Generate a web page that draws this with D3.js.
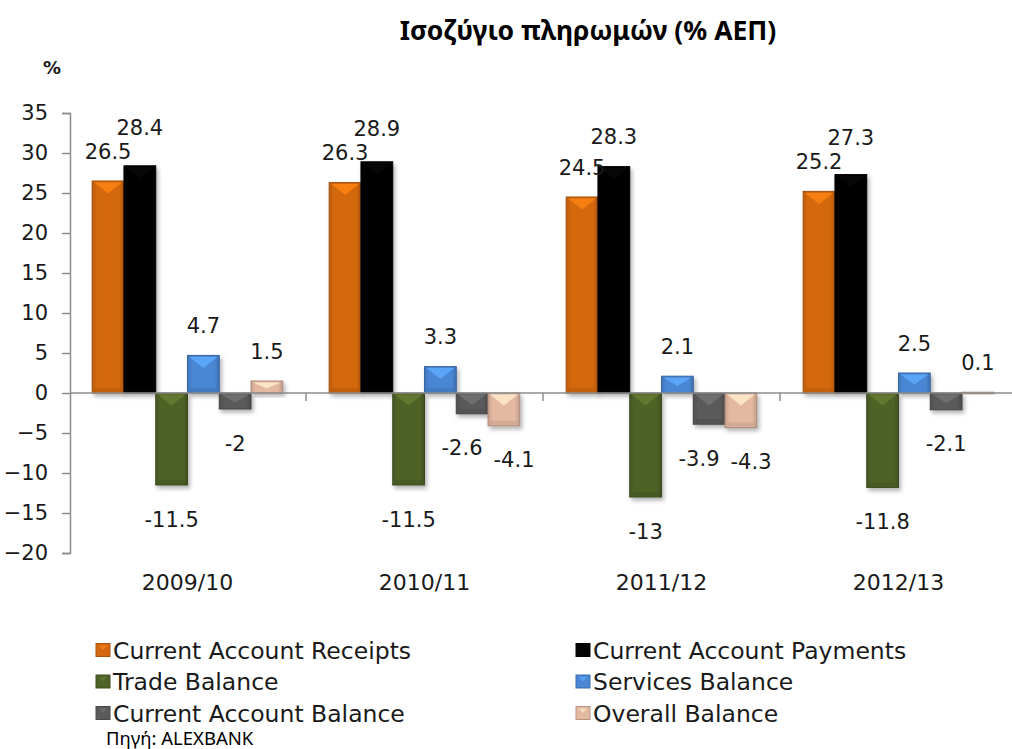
<!DOCTYPE html>
<html>
  <head>
    <meta charset="utf-8">
    <script src="https://cdn.jsdelivr.net/npm/d3@7"></script>
    <style type="text/css">
      body {
        margin: 0;
        padding: 0;
        background: #fff;
      }
      svg text {
        font-family: 'DejaVu Sans', sans-serif;
        fill: #1a1a1a;
      }
      #title {
        font-family: 'Noto Sans', sans-serif;
        font-weight: 700;
        font-size: 26.5px;
        fill: #000;
      }
      #source {
        font-family: 'Noto Sans', sans-serif;
        font-size: 18.5px;
        fill: #000;
      }
    </style>
  </head>
  <body>
    <svg id="chart" width="1012" height="749"></svg>

    <script>
      const categories = ['2009/10', '2010/11', '2011/12', '2012/13']
      const seriesNames = [
        'Current Account Receipts',
        'Current Account Payments',
        'Trade Balance',
        'Services Balance',
        'Current Account Balance',
        'Overall Balance'
      ]
      const receipts = [26.5, 26.3, 24.5, 25.2]
      const payments = [28.4, 28.9, 28.3, 27.3]
      const trade = [-11.5, -11.5, -13, -11.8]
      const services = [4.7, 3.3, 2.1, 2.5]
      const currentBalance = [-2, -2.6, -3.9, -2.1]
      const overall = [1.5, -4.1, -4.3, 0.1]
      const yTicks = [35, 30, 25, 20, 15, 10, 5, 0, -5, -10, -15, -20]

      const seriesValues = [receipts, payments, trade, services, currentBalance, overall]
      const colors = ['#d4680f', '#050505', '#4f6228', '#4a87d4', '#5a5a5a', '#e4b9a2']

      const svg = d3.select('#chart')
      const defs = svg.append('defs')

      defs.append('filter')
        .attr('id', 'shadow')
        .attr('x', '-20%').attr('y', '-20%')
        .attr('width', '160%').attr('height', '160%')
        .append('feDropShadow')
        .attr('dx', 2).attr('dy', 3)
        .attr('stdDeviation', 2)
        .attr('flood-color', '#000')
        .attr('flood-opacity', 0.3)

      // soft horizontal shading on every bar
      colors.forEach((c, i) => {
        const g = defs.append('linearGradient')
          .attr('id', 'grad' + i)
          .attr('x1', 0).attr('x2', 1).attr('y1', 0).attr('y2', 0)
        g.append('stop').attr('offset', '0%').attr('stop-color', d3.color(c).darker(0.35))
        g.append('stop').attr('offset', '15%').attr('stop-color', c)
        g.append('stop').attr('offset', '85%').attr('stop-color', c)
        g.append('stop').attr('offset', '100%').attr('stop-color', d3.color(c).darker(0.5))
      })

      const y = d3.scaleLinear().domain([-20, 35]).range([553, 113])
      const x0 = d3.scaleBand().domain(categories).range([69, 1017])
      const x1 = d3.scaleBand().domain(d3.range(seriesNames.length))
        .range([0, x0.bandwidth()]).paddingOuter(0.73)

      /* Axes */
      const yAxis = svg.append('g')
        .attr('transform', `translate(70,0)`)
        .call(d3.axisLeft(y).tickValues(yTicks).tickSize(8).tickPadding(14))
      yAxis.select('.domain').attr('stroke', '#8c8c8c').attr('stroke-width', 1.5)
      yAxis.selectAll('.tick line').attr('stroke', '#8c8c8c').attr('stroke-width', 1.5)
      yAxis.selectAll('.tick text')
        .attr('font-size', 21)
        .attr('font-family', 'DejaVu Sans, sans-serif')
        .attr('fill', '#1a1a1a')

      svg.append('text')
        .attr('x', 52).attr('y', 74)
        .attr('text-anchor', 'middle')
        .attr('font-size', 18)
        .attr('font-weight', 700)
        .text('%')

      /* Bars */
      const groups = svg.append('g').selectAll('g')
        .data(categories)
        .join('g')
        .attr('transform', d => `translate(${x0(d)},0)`)

      const bars = groups.selectAll('g.bar')
        .data((d, ci) => seriesValues.map((vals, si) => ({ si, ci, v: vals[ci] })))
        .join('g')
        .attr('class', 'bar')

      bars.append('rect')
        .attr('x', d => x1(d.si))
        .attr('y', d => y(Math.max(0, d.v)))
        .attr('width', x1.bandwidth())
        .attr('height', d => Math.max(1.5, Math.abs(y(d.v) - y(0))))
        .attr('fill', d => `url(#grad${d.si})`)
        .attr('stroke', d => d3.color(colors[d.si]).darker(0.8))
        .attr('stroke-width', 1)
        .attr('filter', 'url(#shadow)')

      // bevel highlight at the top edge of each bar
      bars.filter(d => Math.abs(y(d.v) - y(0)) > 4)
        .append('path')
        .attr('d', d => {
          const left = x1(d.si) + 2
          const w = x1.bandwidth() - 4
          const top = y(Math.max(0, d.v)) + 1.5
          const h = Math.min(11, Math.abs(y(d.v) - y(0)) * 0.5)
          return `M${left},${top} L${left + w},${top} L${left + w / 2},${top + h} Z`
        })
        .attr('fill', d => d3.color(colors[d.si]).brighter(d.si === 1 ? 1.6 : 0.7))
        .attr('opacity', 0.8)

      // lower bevel band
      bars.filter(d => Math.abs(y(d.v) - y(0)) > 20)
        .append('rect')
        .attr('x', d => x1(d.si) + 2)
        .attr('y', d => y(Math.min(0, d.v)) - 5)
        .attr('width', x1.bandwidth() - 4)
        .attr('height', 4)
        .attr('fill', d => d3.color(colors[d.si]).darker(0.4))
        .attr('opacity', 0.6)

      /* X axis */
      svg.append('line')
        .attr('x1', 70).attr('x2', 1012)
        .attr('y1', y(0)).attr('y2', y(0))
        .attr('stroke', '#8c8c8c').attr('stroke-width', 1.5)
      svg.append('g').selectAll('line')
        .data(categories.slice(1))
        .join('line')
        .attr('x1', d => x0(d)).attr('x2', d => x0(d))
        .attr('y1', y(0)).attr('y2', y(0) + 8)
        .attr('stroke', '#8c8c8c').attr('stroke-width', 1.5)

      svg.append('g').selectAll('text')
        .data(categories)
        .join('text')
        .attr('x', d => x0(d) + x0.bandwidth() / 2)
        .attr('y', 590)
        .attr('text-anchor', 'middle')
        .attr('font-size', 22)
        .text(d => d)

      /* Value labels: positive ones that clash are lifted, negative ones pushed sideways */
      const labelW = v => String(v).length * 12
      groups.each(function (cat, ci) {
        const labels = seriesValues.map((vals, si) => {
          const v = vals[ci]
          return {
            v,
            cx: x1(si) + x1.bandwidth() / 2,
            cy: v >= 0 ? y(v) - 30 : y(v) + 34
          }
        })
        for (let i = 0; i < labels.length - 1; i++) {
          const a = labels[i], b = labels[i + 1]
          const overlap = (labelW(a.v) + labelW(b.v)) / 2 + 4 - (b.cx - a.cx)
          if (Math.abs(a.cy - b.cy) < 24 && overlap > 0) {
            if (a.v >= 0 && b.v >= 0) {
              b.cy = Math.min(b.cy, a.cy - 24)
            } else {
              a.cx -= overlap / 2
              b.cx += overlap / 2
            }
          }
        }
        d3.select(this).selectAll('text.val')
          .data(labels)
          .join('text')
          .attr('class', 'val')
          .attr('x', d => d.cx)
          .attr('y', d => d.cy + 7.5)
          .attr('text-anchor', 'middle')
          .attr('font-size', 21)
          .text(d => d.v)
      })

      /* Legend */
      const legend = svg.append('g').selectAll('g')
        .data(seriesNames)
        .join('g')
        .attr('transform', (d, i) => `translate(${i % 2 === 0 ? 96 : 576},${650 + Math.floor(i / 2) * 31.5})`)

      legend.append('rect')
        .attr('x', 0).attr('y', -6.5)
        .attr('width', 14).attr('height', 13)
        .attr('fill', (d, i) => colors[i])
        .attr('stroke', (d, i) => d3.color(colors[i]).darker(0.6))
      legend.append('path')
        .attr('d', 'M3,-4.5 L11,-4.5 L7,0 Z')
        .attr('fill', (d, i) => d3.color(colors[i]).brighter(i === 1 ? 1.6 : 0.7))
        .attr('opacity', 0.7)
      legend.append('text')
        .attr('x', 17)
        .attr('y', 8.5)
        .attr('font-size', 23.5)
        .text(d => d)

      /* Title and source */
      svg.append('text')
        .attr('id', 'title')
        .attr('x', 588).attr('y', 40)
        .attr('text-anchor', 'middle')
        .text('Ισοζύγιο πληρωμών (% ΑΕΠ)')

      svg.append('text')
        .attr('id', 'source')
        .attr('x', 106).attr('y', 745)
        .text('Πηγή: ALEXBANK')
    </script>
  </body>
</html>
